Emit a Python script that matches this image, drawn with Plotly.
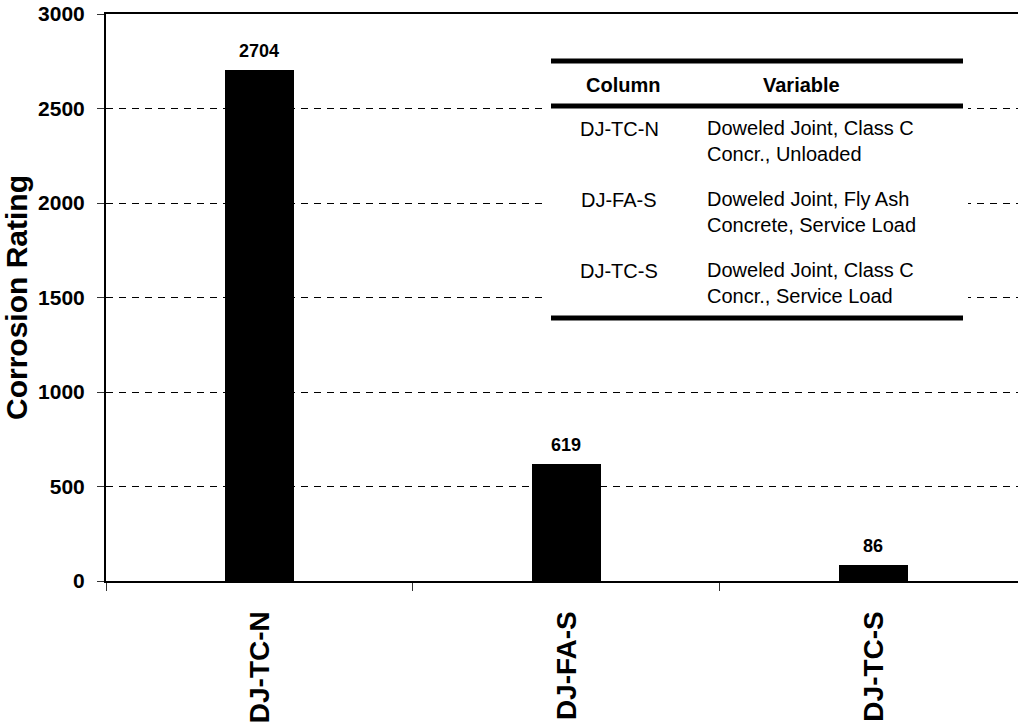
import plotly.graph_objects as go

# Corrosion ratings for each test column
columns = ["DJ-TC-N", "DJ-FA-S", "DJ-TC-S"]
ratings = [2704, 619, 86]

# Key table shown inside the plot
table_header = ["Column", "Variable"]
table_columns = ["DJ-TC-N", "DJ-FA-S", "DJ-TC-S"]
table_variables = [
    "Doweled Joint, Class C<br>Concr., Unloaded",
    "Doweled Joint, Fly Ash<br>Concrete, Service Load",
    "Doweled Joint, Class C<br>Concr., Service Load",
]

y_ticks = [0, 500, 1000, 1500, 2000, 2500, 3000]

FONT = "Liberation Sans, Arial, sans-serif"
W, H = 1018, 727
L, R, T, B = 106, 0, 14, 146

fig = go.Figure()
fig.add_trace(go.Bar(
    x=columns, y=ratings, width=0.225,
    marker=dict(color="black", line=dict(width=0)),
))

# Value labels above each bar
for c, v in zip(columns, ratings):
    fig.add_annotation(x=c, y=v, xref="x", yref="y", text="<b>%d</b>" % v,
                       showarrow=False, xanchor="center", yanchor="bottom",
                       yshift=7, font=dict(family=FONT, size=18, color="black"))

fig.update_layout(
    width=W, height=H,
    margin=dict(l=L, r=R, t=T, b=B, autoexpand=False),
    plot_bgcolor="white", paper_bgcolor="white",
    showlegend=False,
    font=dict(family=FONT, color="black"),
    bargap=0,
)

fig.update_xaxes(
    range=[-0.5, 2.471],
    showline=True, linecolor="black", linewidth=2, mirror=True,
    ticks="outside", tickson="boundaries", ticklen=8, tickwidth=1, tickcolor="#333",
    tickangle=-90, ticklabelstandoff=17,
    tickfont=dict(family=FONT, size=28, color="black", weight="bold"),
    showgrid=False, zeroline=False,
)
fig.update_yaxes(
    range=[0, 3000], tickvals=y_ticks,
    showline=True, linecolor="black", linewidth=2,
    ticks="outside", ticklen=7, tickwidth=1, tickcolor="#333",
    ticklabelstandoff=8,
    tickfont=dict(family=FONT, size=21, color="black", weight="bold"),
    showgrid=True, gridcolor="black", gridwidth=1, griddash="7px,6px",
    zeroline=False,
    title=dict(text="Corrosion Rating", standoff=9,
               font=dict(family=FONT, size=30, color="black", weight="bold")),
)

# Table: white backing, rules and text, positioned in pixels
def px_x(p):
    return (p - L) / (W - L - R)

def px_y(p):
    return 1 - (p - T) / (H - T - B)

fig.add_shape(type="rect", xref="paper", yref="paper",
              x0=px_x(546), x1=px_x(968), y0=px_y(324), y1=px_y(55),
              fillcolor="white", line=dict(width=0), layer="above")
for yy in (61, 106, 318):
    fig.add_shape(type="line", xref="paper", yref="paper",
                  x0=px_x(551), x1=px_x(963), y0=px_y(yy), y1=px_y(yy),
                  line=dict(color="black", width=5), layer="above")

for label, xc in zip(table_header, (623, 801)):
    fig.add_annotation(x=px_x(xc), y=px_y(85), xref="paper", yref="paper",
                       text="<b>%s</b>" % label, showarrow=False,
                       xanchor="center", yanchor="middle",
                       font=dict(family=FONT, size=20, color="black"))

row_tops = [129, 200, 271]
for name, var, yc in zip(table_columns, table_variables, row_tops):
    fig.add_annotation(x=px_x(619), y=px_y(yc), xref="paper", yref="paper",
                       text=name, showarrow=False,
                       xanchor="center", yanchor="middle",
                       font=dict(family=FONT, size=20, color="black"))
    fig.add_annotation(x=px_x(705), y=px_y(yc - 14), xref="paper", yref="paper",
                       text=var, showarrow=False, xanchor="left", yanchor="top",
                       align="left",
                       font=dict(family=FONT, size=20, color="black"))

fig.write_html("out.html")
